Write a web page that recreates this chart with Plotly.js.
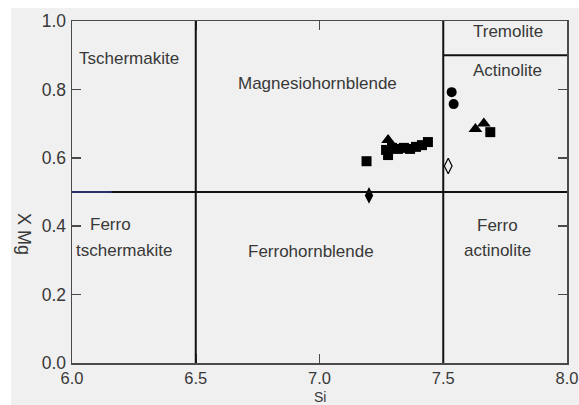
<!DOCTYPE html>
<html>
<head>
<meta charset="utf-8">
<script src="https://cdn.plot.ly/plotly-3.0.1.min.js"></script>
<style>
  html, body { margin:0; padding:0; background:#ffffff; width:579px; height:405px; overflow:hidden; }
  #chart { position:absolute; left:11px; top:8px; width:568px; height:397px; }
</style>
</head>
<body>
<div id="chart"></div>
<script>
// ---- data ----
const squaresX = [7.19, 7.269, 7.277, 7.293, 7.317, 7.341, 7.366, 7.390, 7.414, 7.438, 7.69];
const squaresY = [0.59, 0.623, 0.608, 0.629, 0.626, 0.629, 0.626, 0.632, 0.637, 0.646, 0.675];
const trianglesX = [7.277, 7.63, 7.664];
const trianglesY = [0.652, 0.684, 0.70];
const circlesX = [7.534, 7.542];
const circlesY = [0.792, 0.757];
const diamondX = [7.20];
const diamondY = [0.49];
const openDiamondX = [7.52];
const openDiamondY = [0.576];

// classification boundaries
const siBounds = [6.5, 7.5];
const mgBound = 0.5;
const tremoliteBound = 0.9;

const xTicks = [6.0, 6.5, 7.0, 7.5, 8.0];
const yTicks = [0.0, 0.2, 0.4, 0.6, 0.8, 1.0];

const regionLabels = [
  {text: 'Tschermakite', x: 6.23, y: 0.889},
  {text: 'Magnesiohornblende', x: 6.99, y: 0.816},
  {text: 'Tremolite', x: 7.76, y: 0.968},
  {text: 'Actinolite', x: 7.76, y: 0.854},
  {text: 'Ferro', x: 6.155, y: 0.405},
  {text: 'tschermakite', x: 6.21, y: 0.33},
  {text: 'Ferrohornblende', x: 6.965, y: 0.325},
  {text: 'Ferro', x: 7.72, y: 0.402},
  {text: 'actinolite', x: 7.72, y: 0.328}
];

const fontFam = 'Liberation Sans, Arial, sans-serif';
const txtCol = '#383838';

function mk(x, y, symbol, size) {
  return {
    x: x, y: y, type: 'scatter', mode: 'markers', hoverinfo: 'none',
    marker: {symbol: symbol, size: size, color: '#000000', line: {width: 0}},
    showlegend: false
  };
}

const traces = [
  mk(squaresX, squaresY, 'square', 10),
  mk(trianglesX, trianglesY, 'triangle-up', 12),
  mk(circlesX, circlesY, 'circle', 10),
  mk(diamondX, diamondY, 'diamond-tall', 12),
  {x: openDiamondX, y: openDiamondY, type: 'scatter', mode: 'markers', showlegend: false,
   marker: {symbol: 'diamond-tall-open', size: 11, color: '#000000', line: {width: 1.2}}}
];

const shapes = [];
siBounds.forEach(v => shapes.push({type: 'line', xref: 'x', yref: 'y', x0: v, x1: v, y0: 0, y1: 1,
  line: {color: '#111111', width: 2}}));
shapes.push({type: 'line', xref: 'x', yref: 'y', x0: 6, x1: 8, y0: mgBound, y1: mgBound,
  line: {color: '#111111', width: 2}});
shapes.push({type: 'line', xref: 'x', yref: 'y', x0: 7.5, x1: 8, y0: tremoliteBound, y1: tremoliteBound,
  line: {color: '#111111', width: 2}});
// short blue stroke at the left of the 0.5 line
shapes.push({type: 'line', xref: 'x', yref: 'y', x0: 6.0, x1: 6.16, y0: mgBound, y1: mgBound,
  line: {color: '#27306a', width: 2}});

const annotations = regionLabels.map(l => ({
  text: l.text, x: l.x, y: l.y, xref: 'x', yref: 'y', showarrow: false,
  font: {family: fontFam, size: 17, color: txtCol}
}));
annotations.push({text: 'X Mg', x: -0.097, y: 0.377, xref: 'paper', yref: 'paper',
  xanchor: 'center', yanchor: 'middle', showarrow: false,
  textangle: 90, font: {family: fontFam, size: 18, color: txtCol}});
annotations.push({text: 'Si', x: 0.5, y: -0.0731, xref: 'paper', yref: 'paper',
  xanchor: 'center', yanchor: 'top', showarrow: false, borderpad: 0,
  font: {family: fontFam, size: 14, color: txtCol}});

const axisCommon = {
  showgrid: false, zeroline: false, showline: true, linecolor: '#4a4a4a', linewidth: 1.5,
  mirror: 'ticks', ticks: 'inside', ticklen: 9, tickwidth: 1.5, tickcolor: '#4a4a4a',
  tickfont: {family: fontFam, size: 17.5, color: txtCol}, fixedrange: true
};

const layout = {
  width: 568, height: 397,
  margin: {l: 61, r: 12, t: 13, b: 42},
  paper_bgcolor: '#f0f0f0', plot_bgcolor: '#f0f0f0',
  xaxis: Object.assign({}, axisCommon, {range: [6, 8], tickvals: xTicks,
    ticktext: xTicks.map(v => v.toFixed(1)), ticklabelstandoff: 0,
    tickfont: {family: fontFam, size: 16.5, color: txtCol}}),
  yaxis: Object.assign({}, axisCommon, {range: [0, 1], tickvals: yTicks,
    ticktext: yTicks.map(v => v.toFixed(1)), ticklabelstandoff: 1}),
  shapes: shapes,
  annotations: annotations,
  showlegend: false
};

Plotly.newPlot('chart', traces, layout, {displayModeBar: false, staticPlot: true});
</script>
</body>
</html>
